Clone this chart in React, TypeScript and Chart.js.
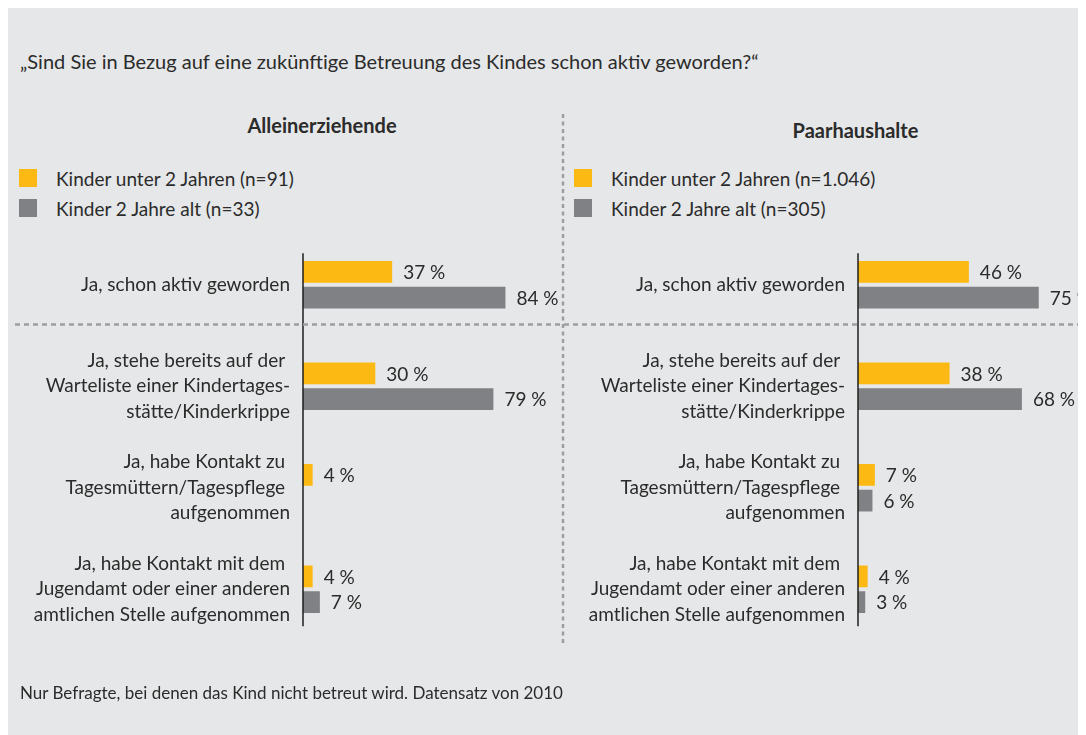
import React, { useEffect, useRef } from "react";
import { Chart, registerables } from "chart.js";

Chart.register(...registerables);

// ---------- data ----------
const categories: string[][] = [
  ["Ja, schon aktiv geworden"],
  ["Ja, stehe bereits auf der ", "Warteliste einer Kindertages-", "stätte/Kinderkrippe"],
  ["Ja, habe Kontakt zu ", "Tagesmüttern/Tagespflege ", "aufgenommen"],
  ["Ja, habe Kontakt mit dem ", "Jugendamt oder einer anderen", "amtlichen Stelle aufgenommen"],
];
const seriesAllein = ["Kinder unter 2 Jahren (n=91)", "Kinder 2 Jahre alt (n=33)"];
const seriesPaar = ["Kinder unter 2 Jahren (n=1.046)", "Kinder 2 Jahre alt (n=305)"];
const alleinUnter2 = [37, 30, 4, 4];
const allein2: (number | null)[] = [84, 79, null, 7];
const paarUnter2 = [46, 38, 7, 4];
const paar2 = [75, 68, 6, 3];
const panelTitles = ["Alleinerziehende", "Paarhaushalte"];
const question = "„Sind Sie in Bezug auf eine zukünftige Betreuung des Kindes schon aktiv geworden?“";
const footnote = "Nur Befragte, bei denen das Kind nicht betreut wird. Datensatz von 2010";

// ---------- style ----------
const ORANGE = "#fdb913";
const GRAY = "#808184";
const BG = "#e6e7e8";
const TEXT = "#2b2b2b";
const DASH = "#9d9ea0";
const FONT = "Lato, 'Open Sans', sans-serif";
const FS = 19;

const valueLabels = {
  id: "valueLabels",
  afterDatasetsDraw(chart: any) {
    const ctx = chart.ctx;
    ctx.save();
    ctx.font = `${FS}px ${FONT}`;
    ctx.fillStyle = TEXT;
    ctx.textBaseline = "middle";
    ctx.textAlign = "left";
    chart.data.datasets.forEach((ds: any, i: number) => {
      const meta = chart.getDatasetMeta(i);
      meta.data.forEach((el: any, j: number) => {
        const v = ds.data[j];
        if (v == null) return;
        ctx.fillText(`${v} %`, el.x + 11, el.y + 1);
      });
    });
    const y = chart.scales.y;
    const step = y.getPixelForValue(1) - y.getPixelForValue(0);
    const top = y.getPixelForValue(0) - 0.31 * step;
    const bottom = y.getPixelForValue(categories.length - 1) + 0.365 * step;
    ctx.strokeStyle = "#1e1e1e";
    ctx.lineWidth = 1.5;
    ctx.beginPath();
    ctx.moveTo(chart.chartArea.left, top);
    ctx.lineTo(chart.chartArea.left, bottom);
    ctx.stroke();
    ctx.restore();
  },
};

function makeConfig(
  names: string[],
  d1: (number | null)[],
  d2: (number | null)[],
  axisWidth: number,
  padRight: number
): any {
  return {
    type: "bar",
    data: {
      labels: categories,
      datasets: [
        { label: names[0], data: d1, backgroundColor: ORANGE, borderWidth: 0, barPercentage: 0.845, categoryPercentage: 0.507 },
        { label: names[1], data: d2, backgroundColor: GRAY, borderWidth: 0, barPercentage: 0.845, categoryPercentage: 0.507 },
      ],
    },
    options: {
      indexAxis: "y",
      responsive: false,
      animation: false,
      layout: { autoPadding: false, padding: { top: 4, bottom: 10, left: 0, right: padRight } },
      plugins: { legend: { display: false }, tooltip: { enabled: false }, title: { display: false } },
      scales: {
        x: { type: "linear", min: 0, max: 100, display: false },
        y: {
          type: "category",
          grid: { display: false, drawTicks: false },
          border: { display: false },
          ticks: {
            autoSkip: false,
            padding: 13,
            color: TEXT,
            font: { family: FONT, size: FS, lineHeight: 1.34 },
          },
          afterFit: (scale: any) => {
            scale.width = axisWidth;
            scale.paddingTop = 0;
            scale.paddingBottom = 0;
            if (scale._margins) {
              scale._margins.top = 0;
              scale._margins.bottom = 0;
            }
          },
        },
      },
    },
    plugins: [valueLabels],
  };
}

function Panel({
  left,
  width,
  names,
  d1,
  d2,
  axisWidth,
  padRight,
}: {
  left: number;
  width: number;
  names: string[];
  d1: (number | null)[];
  d2: (number | null)[];
  axisWidth: number;
  padRight: number;
}) {
  const ref = useRef<HTMLCanvasElement | null>(null);
  useEffect(() => {
    if (!ref.current) return;
    const chart = new Chart(ref.current, makeConfig(names, d1, d2, axisWidth, padRight));
    return () => chart.destroy();
  }, []);
  return (
    <canvas
      ref={ref}
      width={width}
      height={420}
      style={{ position: "absolute", left, top: 222, width, height: 420, display: "block" }}
    />
  );
}

const txt = (extra: React.CSSProperties): React.CSSProperties => ({
  position: "absolute",
  whiteSpace: "pre",
  lineHeight: "24px",
  fontSize: FS,
  ...extra,
});

function Legend({ names, x }: { names: string[]; x: number }) {
  const colors = [ORANGE, GRAY];
  return (
    <>
      {names.map((n, i) => (
        <React.Fragment key={n}>
          <div style={{ position: "absolute", left: x, top: 161 + i * 30, width: 18, height: 18, background: colors[i] }} />
          <div style={txt({ left: x + 37, top: 159 + i * 29.5 })}>{n}</div>
        </React.Fragment>
      ))}
    </>
  );
}

export default function App() {
  useEffect(() => {
    document.documentElement.style.overflow = "hidden";
    document.body.style.overflow = "hidden";
  }, []);
  return (
    <div
      style={{
        position: "relative",
        width: 1078,
        height: 727,
        background: BG,
        overflow: "hidden",
        fontFamily: FONT,
        color: TEXT,
      }}
    >
      <div style={txt({ left: 12, top: 40.5, fontSize: 20 })}>{question}</div>
      <div style={txt({ left: 314, top: 105, transform: "translateX(-50%)", fontWeight: 700, fontSize: 20 })}>{panelTitles[0]}</div>
      <div style={txt({ left: 847.5, top: 110, transform: "translateX(-50%)", fontWeight: 700, fontSize: 20 })}>{panelTitles[1]}</div>
      <Legend names={seriesAllein} x={11} />
      <Legend names={seriesPaar} x={566} />
      <Panel left={0} width={552} names={seriesAllein} d1={alleinUnter2} d2={allein2} axisWidth={295} padRight={16} />
      <Panel left={557} width={594} names={seriesPaar} d1={paarUnter2} d2={paar2} axisWidth={293} padRight={60} />
      <svg
        width={1078}
        height={727}
        style={{ position: "absolute", left: 0, top: 0, pointerEvents: "none" }}
      >
        <line x1={7} y1={316.5} x2={1078} y2={316.5} stroke={DASH} strokeWidth={2.5} strokeDasharray="5 4" />
        <line x1={555} y1={106} x2={555} y2={635} stroke={DASH} strokeWidth={2.5} strokeDasharray="4 3.5" />
      </svg>
      <div style={txt({ left: 12, top: 673, fontSize: 17 })}>{footnote}</div>
    </div>
  );
}
